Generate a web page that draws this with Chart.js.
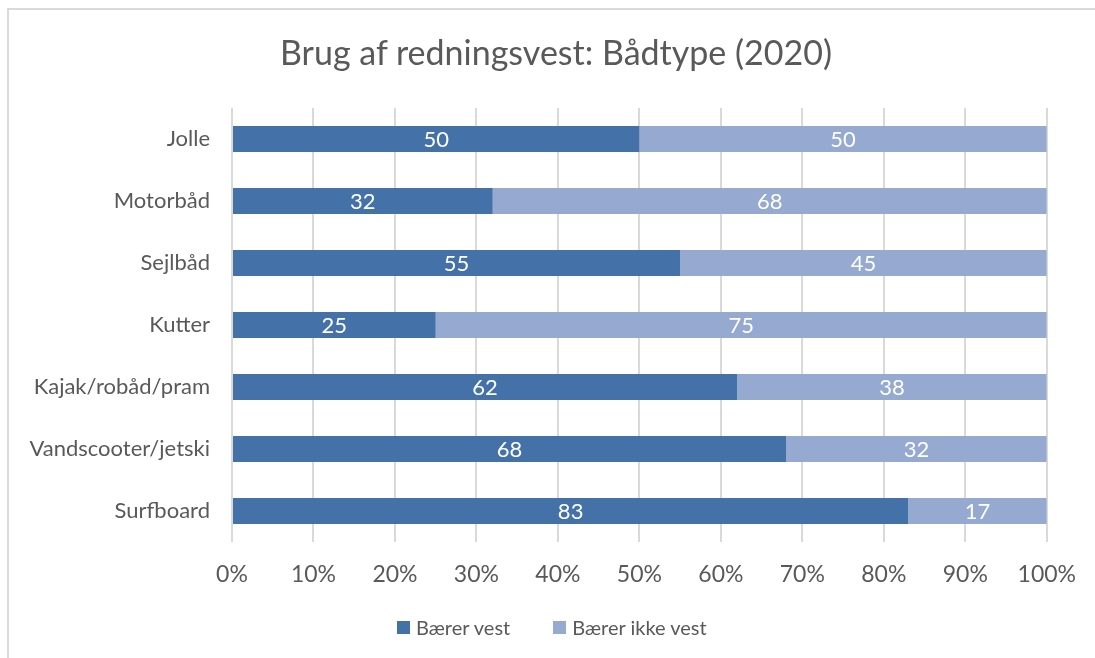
<!DOCTYPE html>
<html>
<head>
<meta charset="utf-8">
<script src="https://cdn.jsdelivr.net/npm/chart.js@4/dist/chart.umd.min.js"></script>
<style>
    html, body { margin: 0; padding: 0; background: #fff; }
    #frame {
        position: absolute; left: 7px; top: 8px;
        width: 1200px; height: 800px;
        border-left: 2px solid #d9d9d9; border-top: 2px solid #d9d9d9;
    }
    #wrap { position: absolute; left: 0; top: 0; width: 1095px; height: 658px; }
    #title {
        position: absolute; left: 256px; width: 600px; top: 31px; height: 42px; line-height: 42px;
        text-align: center; white-space: nowrap;
        font-family: Lato, "Open Sans", sans-serif; font-size: 34px; color: #595959;
    }
    #legend {
        position: absolute; left: 397px; top: 614px; height: 26px;
        display: flex; align-items: center; gap: 43px;
        font-family: Lato, "Open Sans", sans-serif; font-size: 20px; color: #595959;
    }
    .legend-item { display: flex; align-items: center; white-space: nowrap; }
    .legend-box { width: 13px; height: 13px; margin-right: 6px; }
</style>
</head>
<body>
<div id="frame"></div>
<div id="wrap"><canvas id="barChart" width="1095" height="658"></canvas></div>
<div id="title">Brug af redningsvest: Bådtype (2020)</div>
<div id="legend"></div>
<script>
// Dữ liệu biểu đồ
const categories = ['Jolle', 'Motorbåd', 'Sejlbåd', 'Kutter', 'Kajak/robåd/pram', 'Vandscooter/jetski', 'Surfboard'];
const baererVest = [50, 32, 55, 25, 62, 68, 83];
const baererIkkeVest = [50, 68, 45, 75, 38, 32, 17];
const seriesNames = ['Bærer vest', 'Bærer ikke vest'];
const seriesColors = ['#4472a8', '#95a9d1'];

const FONT = 'Lato, "Open Sans", sans-serif';
const GRAY = '#595959';

// Vẽ số liệu ở giữa mỗi thanh
const barLabels = {
    id: 'barLabels',
    afterDatasetsDraw(chart) {
        const ctx = chart.ctx;
        ctx.save();
        ctx.fillStyle = '#ffffff';
        ctx.font = '22px ' + FONT;
        ctx.textAlign = 'center';
        ctx.textBaseline = 'middle';
        chart.data.datasets.forEach((ds, i) => {
            chart.getDatasetMeta(i).data.forEach((bar, j) => {
                const p = bar.getProps(['x', 'y', 'base'], true);
                ctx.fillText(ds.data[j], (p.x + p.base) / 2, p.y + 1);
            });
        });
        ctx.restore();
    }
};

const ctx = document.getElementById('barChart').getContext('2d');
const barChart = new Chart(ctx, {
    type: 'bar',
    data: {
        labels: categories,
        datasets: [
            { label: seriesNames[0], data: baererVest, backgroundColor: seriesColors[0] },
            { label: seriesNames[1], data: baererIkkeVest, backgroundColor: seriesColors[1] }
        ]
    },
    options: {
        indexAxis: 'y',
        responsive: false,
        animation: false,
        barPercentage: 0.84,
        categoryPercentage: 0.5,
        layout: { padding: { left: 0, right: 44, top: 108, bottom: 70 } },
        plugins: {
            title: { display: false }, // tiêu đề là HTML
            legend: { display: false }, // Ẩn legend vì đã có legend riêng
            tooltip: { enabled: false }
        },
        scales: {
            x: {
                stacked: true,
                min: 0,
                max: 100,
                ticks: {
                    stepSize: 10,
                    color: GRAY,
                    font: { family: FONT, size: 23 },
                    padding: 19,
                    callback: function (value) { return value + '%'; }
                },
                grid: { color: '#d9d9d9', lineWidth: 2, drawTicks: false },
                border: { display: false },
                afterFit: function (scale) { scale.height = 46; }
            },
            y: {
                stacked: true,
                ticks: {
                    color: GRAY,
                    font: { family: FONT, size: 22 },
                    padding: 22
                },
                grid: { display: false, drawTicks: false },
                border: { display: false },
                afterFit: function (scale) { scale.width = 232; }
            }
        }
    },
    plugins: [barLabels]
});

// Legend riêng
let legendHtml = '';
seriesNames.forEach((name, i) => {
    legendHtml += `<div class="legend-item" data-dataset="${i}">
        <span class="legend-box" style="background:${seriesColors[i]}"></span>${name}</div>`;
});
document.getElementById('legend').innerHTML = legendHtml;
</script>
</body>
</html>
